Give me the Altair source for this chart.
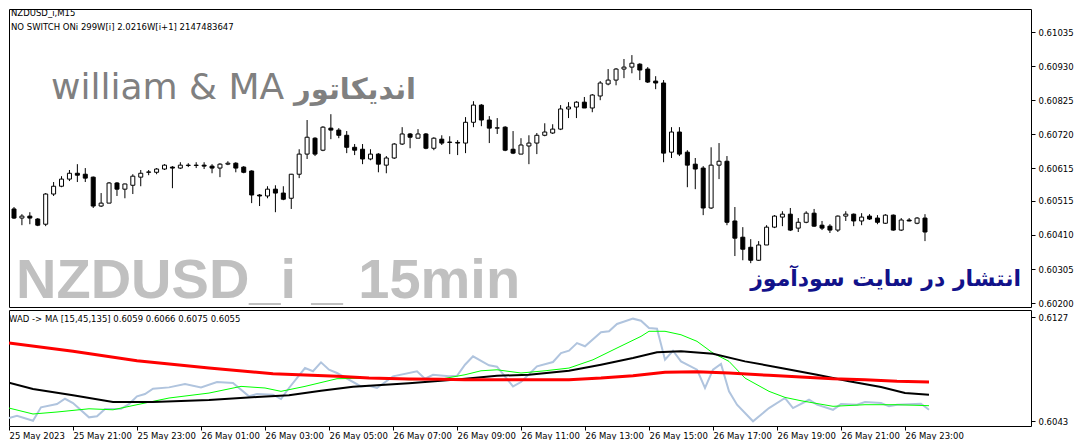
import json

import altair as alt
import pandas as pd

# NZDUSD_i M15 bars, 25 May 2023 19:00 .. 26 May 2023 23:45 (prices in points, 1e-5)
bar_open = [60490, 60462, 60468, 60459, 60443, 60536, 60560, 60582, 60600, 60597,
            60588, 60499, 60508, 60570, 60551, 60563, 60588, 60603, 60603, 60613,
            60619, 60616, 60625, 60624, 60625, 60622, 60616, 60628, 60631, 60619,
            60607, 60533, 60530, 60551, 60539, 60523, 60597, 60659, 60708, 60671,
            60739, 60733, 60717, 60680, 60674, 60644, 60659, 60625, 60647, 60690,
            60721, 60708, 60721, 60677, 60705, 60696, 60695, 60693, 60757, 60810,
            60764, 60739, 60742, 60674, 60659, 60684, 60693, 60717, 60724, 60736,
            60798, 60804, 60819, 60801, 60838, 60875, 60887, 60921, 60927, 60936,
            60921, 60884, 60878, 60665, 60727, 60665, 60628, 60616, 60493, 60625,
            60637, 60453, 60403, 60372, 60332, 60379, 60434, 60465, 60474, 60431,
            60449, 60477, 60440, 60437, 60425, 60468, 60474, 60453, 60468, 60462,
            60446, 60471, 60425, 60456, 60446, 60462]
bar_high = [60496, 60474, 60480, 60462, 60539, 60573, 60591, 60610, 60628, 60616,
            60590, 60539, 60573, 60573, 60568, 60597, 60610, 60610, 60616, 60628,
            60622, 60634, 60631, 60634, 60634, 60628, 60631, 60637, 60634, 60622,
            60609, 60536, 60560, 60563, 60560, 60598, 60674, 60764, 60711, 60745,
            60782, 60739, 60730, 60690, 60690, 60674, 60662, 60653, 60693, 60742,
            60724, 60736, 60724, 60711, 60717, 60714, 60702, 60773, 60822, 60813,
            60776, 60770, 60745, 60730, 60708, 60717, 60724, 60754, 60751, 60810,
            60819, 60822, 60835, 60844, 60884, 60921, 60924, 60952, 60964, 60939,
            60927, 60899, 60887, 60742, 60742, 60671, 60647, 60622, 60680, 60693,
            60653, 60496, 60434, 60397, 60391, 60440, 60471, 60483, 60493, 60462,
            60483, 60490, 60453, 60443, 60470, 60483, 60476, 60477, 60474, 60471,
            60474, 60473, 60462, 60462, 60465, 60474]
bar_low = [60459, 60440, 60443, 60437, 60437, 60530, 60557, 60576, 60573, 60573,
           60493, 60496, 60508, 60530, 60523, 60536, 60560, 60594, 60597, 60610,
           60554, 60613, 60619, 60616, 60613, 60600, 60588, 60625, 60603, 60600,
           60508, 60499, 60523, 60480, 60517, 60490, 60585, 60644, 60653, 60668,
           60705, 60708, 60662, 60656, 60628, 60640, 60603, 60600, 60644, 60687,
           60677, 60708, 60674, 60671, 60687, 60659, 60656, 60662, 60742, 60745,
           60693, 60721, 60668, 60659, 60659, 60628, 60659, 60714, 60721, 60733,
           60770, 60770, 60801, 60788, 60825, 60871, 60871, 60893, 60908, 60887,
           60878, 60859, 60634, 60647, 60653, 60557, 60551, 60471, 60490, 60582,
           60440, 60345, 60332, 60323, 60330, 60379, 60431, 60437, 60422, 60419,
           60446, 60435, 60425, 60416, 60419, 60453, 60437, 60440, 60456, 60443,
           60444, 60423, 60422, 60452, 60443, 60391]
bar_close = [60462, 60468, 60462, 60440, 60536, 60560, 60582, 60600, 60594, 60585,
             60499, 60508, 60570, 60551, 60567, 60591, 60600, 60604, 60613, 60625,
             60616, 60625, 60624, 60625, 60622, 60616, 60628, 60631, 60616, 60603,
             60533, 60530, 60551, 60539, 60520, 60597, 60659, 60711, 60659, 60742,
             60733, 60717, 60680, 60671, 60644, 60659, 60628, 60647, 60690, 60721,
             60711, 60721, 60677, 60708, 60693, 60695, 60693, 60757, 60810, 60764,
             60739, 60740, 60671, 60662, 60687, 60693, 60717, 60727, 60736, 60798,
             60804, 60819, 60801, 60841, 60878, 60887, 60921, 60927, 60939, 60918,
             60881, 60878, 60662, 60727, 60659, 60625, 60613, 60493, 60625, 60637,
             60449, 60400, 60366, 60332, 60379, 60434, 60468, 60474, 60425, 60449,
             60477, 60437, 60431, 60425, 60468, 60474, 60453, 60465, 60459, 60449,
             60471, 60425, 60456, 60453, 60462, 60419]

# indicator window: WAD and its MAs (15, 45, 135), values in points (1e-5)
wad_bar = [0, 1, 3, 4, 6, 7, 8, 10, 11, 12, 14, 15, 16, 17, 18, 20, 22, 24, 26, 28,
           30, 31, 33, 34, 35, 37, 38, 39, 40, 41, 44, 45, 46, 48, 51, 52, 53, 55, 56, 57,
           58, 60, 61, 63, 64, 66, 68, 69, 70, 71, 72, 74, 75, 76, 78, 79, 80, 81, 82, 83,
           84, 86, 87, 88, 89, 90, 91, 93, 95, 97, 98, 100, 101, 103, 104, 106, 107, 109,
           110, 111, 114, 115]
wad_val = [60454, 60473, 60432, 60541, 60567, 60610, 60575, 60460, 60468, 60527,
           60529, 60567, 60630, 60648, 60691, 60702, 60729, 60702, 60745, 60737,
           60630, 60648, 60643, 60608, 60697, 60858, 60832, 60904, 60845, 60818,
           60710, 60715, 60697, 60791, 60832, 60772, 60804, 60791, 60796, 60885,
           60953, 60880, 60869, 60710, 60745, 60872, 60907, 60979, 60998, 61060,
           61034, 61147, 61155, 61214, 61257, 61240, 61181, 61176, 60925, 60998,
           60912, 60845, 60697, 60845, 60891, 60670, 60562, 60428, 60535, 60616,
           60535, 60602, 60562, 60521, 60567, 60562, 60584, 60575, 60549, 60562,
           60570, 60521]
ma15_bar = [0, 3, 6, 10, 13, 16, 20, 25, 29, 32, 34, 37, 41, 45, 50, 54, 57, 59, 61, 64,
            67, 70, 73, 76, 79, 80, 82, 84, 86, 88, 90, 92, 95, 97, 99, 103, 107, 111, 115]
ma15_val = [60535, 60487, 60503, 60529, 60521, 60562, 60616, 60656, 60710, 60697,
            60670, 60710, 60772, 60777, 60764, 60769, 60804, 60836, 60844, 60818,
            60836, 60858, 60925, 61020, 61114, 61155, 61155, 61127, 61074, 60979,
            60912, 60777, 60670, 60621, 60594, 60549, 60562, 60562, 60554]
ma45_bar = [0, 3, 8, 13, 18, 25, 31, 35, 39, 43, 50, 54, 57, 61, 65, 70, 74, 78, 81, 84,
            88, 92, 97, 101, 105, 109, 112, 115]
ma45_val = [60740, 60689, 60638, 60584, 60584, 60600, 60624, 60638, 60675, 60707,
            60735, 60756, 60772, 60796, 60804, 60836, 60885, 60939, 60985, 60993,
            60974, 60912, 60853, 60804, 60751, 60705, 60656, 60643]
ma135_bar = [0, 8, 16, 25, 33, 41, 45, 50, 54, 57, 70, 74, 78, 82, 86, 90, 95, 99, 103,
             107, 111, 115]
ma135_val = [61060, 60993, 60917, 60858, 60812, 60791, 60777, 60769, 60767, 60764,
             60764, 60777, 60796, 60824, 60828, 60818, 60799, 60786, 60772, 60764,
             60751, 60745]

price_ticks = [0.61035, 0.60930, 0.60825, 0.60720, 0.60615, 0.60515, 0.60410, 0.60305, 0.60200]
wad_ticks = [0.6043, 0.6127]
time_ticks = list(range(0, 113, 8))
time_labels = ['25 May 2023', '25 May 21:00', '25 May 23:00', '26 May 01:00', '26 May 03:00',
               '26 May 05:00', '26 May 07:00', '26 May 09:00', '26 May 11:00', '26 May 13:00',
               '26 May 15:00', '26 May 17:00', '26 May 19:00', '26 May 21:00', '26 May 23:00']

header_1 = 'NZDUSD_i,M15'
header_2 = 'NO SWITCH ONi 299W[i] 2.0216W[i+1] 2147483647'
title_en = 'william & MA'
title_fa = 'اندیکاتور'
watermark = 'NZDUSD_i _ 15min'
site_fa = 'انتشار در سایت سودآموز'
ind_legend = 'WAD -> MA [15,45,135] 0.6059 0.6066 0.6075 0.6055'

W = 1022
SMALL = 'DejaVu Sans'

candles = pd.DataFrame({
    'bar': range(len(bar_open)),
    'open': [v / 1e5 for v in bar_open],
    'high': [v / 1e5 for v in bar_high],
    'low': [v / 1e5 for v in bar_low],
    'close': [v / 1e5 for v in bar_close],
})

x_scale = alt.Scale(domain=[0, 127.75], nice=False, zero=False)
price_scale = alt.Scale(domain=[0.60188, 0.61106], nice=False, zero=False)
ind_scale = alt.Scale(domain=[0.60390, 0.61327], nice=False, zero=False)

price_axis = alt.Axis(orient='right', values=price_ticks, format='.5f', title=None,
                      labelOverlap=False, tickSize=4, labelPadding=3)


def text_mark(text, x, y, **kw):
    return alt.Chart(pd.DataFrame({'t': [text]})).mark_text(clip=True, **kw).encode(
        text='t:N', x=alt.value(x), y=alt.value(y))


# price window
wicks = alt.Chart(candles).mark_rule(color='black', strokeWidth=1, clip=True).encode(
    x=alt.X('bar:Q', scale=x_scale, axis=None),
    y=alt.Y('low:Q', scale=price_scale, axis=price_axis),
    y2='high:Q',
)
bodies = alt.Chart(candles).mark_bar(size=4, stroke='black', strokeWidth=1, clip=True).encode(
    x=alt.X('bar:Q', scale=x_scale, axis=None),
    y=alt.Y('open:Q', scale=price_scale, axis=price_axis),
    y2='close:Q',
    fill=alt.condition('datum.close >= datum.open', alt.value('white'), alt.value('black')),
)

top = alt.layer(
    text_mark(watermark, 7, 289, font='Liberation Sans', fontSize=56, fontWeight='bold',
              color='#c0c0c0', align='left', baseline='alphabetic'),
    text_mark(title_en, 42, 90, font=SMALL, fontSize=36, color='#808080',
              align='left', baseline='alphabetic'),
    text_mark(title_fa, 407, 90, font=SMALL, fontSize=29, fontWeight='bold', color='#808080',
              align='right', baseline='alphabetic'),
    text_mark(site_fa, 1012, 277, font=SMALL, fontSize=22, fontWeight='bold', color='#12128a',
              align='right', baseline='alphabetic'),
    text_mark(header_1, 2, 4, font=SMALL, fontSize=8.5, color='black', align='left', baseline='middle'),
    text_mark(header_2, 2, 18, font=SMALL, fontSize=8.5, color='black', align='left', baseline='middle'),
    wicks,
    bodies,
).properties(width=W, height=298)

# indicator window
time_axis = alt.Axis(values=time_ticks, title=None, labelAlign='left', labelPadding=1,
                     tickSize=4, labelOverlap=False, labelFlush=False,
                     labelExpr=json.dumps(time_labels) + '[round(datum.value / 8)]')
wad_axis = alt.Axis(orient='right', values=wad_ticks, format='.4f', title=None,
                    labelOverlap=False, tickSize=4, labelPadding=3)


def ind_line(bars, vals, color, width):
    df = pd.DataFrame({'bar': bars, 'value': [v / 1e5 for v in vals]})
    return alt.Chart(df).mark_line(color=color, strokeWidth=width, clip=True).encode(
        x=alt.X('bar:Q', scale=x_scale, axis=time_axis),
        y=alt.Y('value:Q', scale=ind_scale, axis=wad_axis),
    )


bottom = alt.layer(
    ind_line(wad_bar, wad_val, '#b0c4de', 2),
    ind_line(ma15_bar, ma15_val, '#00ff00', 1),
    ind_line(ma45_bar, ma45_val, 'black', 2),
    ind_line(ma135_bar, ma135_val, '#ff0000', 3),
    text_mark(ind_legend, 0, 9, font=SMALL, fontSize=8.5, color='black', align='left', baseline='middle'),
).properties(width=W, height=116)

chart = alt.vconcat(top, bottom, spacing=0).properties(
    padding=0, background='white'
).configure_axis(
    labelFont=SMALL, labelFontSize=8.5, labelColor='black', tickColor='black',
    domain=False, grid=False,
).configure_view(stroke='black', strokeWidth=1)

chart.save("out.html", embed_options={"renderer": "svg", "actions": False})
